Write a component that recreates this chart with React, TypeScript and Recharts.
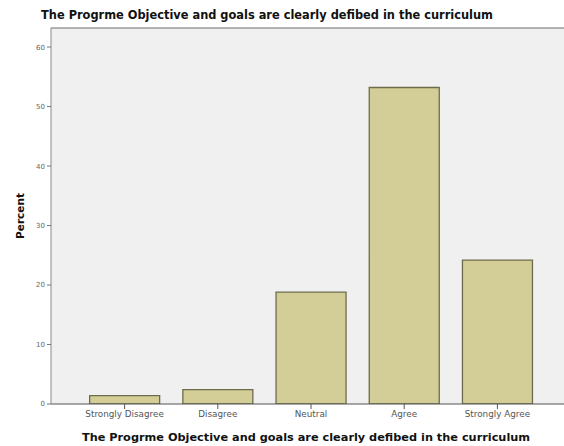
import React from "react";
import {
  BarChart,
  Bar,
  XAxis,
  YAxis,
  CartesianGrid,
  ReferenceLine,
} from "recharts";

const categories = ["Strongly Disagree", "Disagree", "Neutral", "Agree", "Strongly Agree"];
const percents = [1.4, 2.4, 18.8, 53.2, 24.2];
const yTicks = [0, 10, 20, 30, 40, 50, 60];

const titleText = "The Progrme Objective and goals are clearly defibed in the curriculum";

const wideFont = "'DejaVu Sans', Verdana, sans-serif";

const data = categories.map((category, i) => ({ category, percent: percents[i] }));

const XTitle = (props: any) => {
  const vb = props.viewBox || {};
  return (
    <text
      x={306}
      y={(vb.y || 404) + 37}
      textAnchor="middle"
      fontFamily={wideFont}
      fontSize={11.3}
      fontWeight="bold"
      fill="#111"
    >
      {titleText}
    </text>
  );
};

const YTitle = (props: any) => {
  const vb = props.viewBox || {};
  const cy = (vb.y || 28) + (vb.height || 376) / 2;
  return (
    <text
      x={24}
      y={cy}
      transform={`rotate(-90, 24, ${cy})`}
      textAnchor="middle"
      fontFamily={wideFont}
      fontSize={10.5}
      fontWeight="bold"
      fill="#111"
    >
      Percent
    </text>
  );
};

export default function App() {
  return (
    <div style={{ position: "absolute", left: 0, top: 0, width: 564, height: 446, background: "#fff" }}>
      <div
        style={{
          position: "absolute",
          left: 0,
          top: 8,
          width: 534,
          textAlign: "center",
          fontFamily: wideFont,
          fontSize: 11.4,
          fontWeight: 600,
          color: "#111",
          whiteSpace: "nowrap",
        }}
      >
        {titleText}
      </div>
      <BarChart
        width={564}
        height={446}
        data={data}
        margin={{ top: 28, right: 0, left: 0, bottom: 0 }}
        barCategoryGap="12.5%"
        style={{ position: "absolute", left: 0, top: 0 }}
      >
        <CartesianGrid fill="#F0F0F0" horizontal={false} vertical={false} />
        <ReferenceLine y={63.2} stroke="#9a9a9a" strokeWidth={1.5} />
        <XAxis
          dataKey="category"
          height={42}
          padding={{ left: 27, right: 20 }}
          tickSize={5}
          stroke="#555"
          tick={{ fontSize: 8.8, fill: "#555", fontFamily: wideFont }}
          axisLine={{ stroke: "#555" }}
          tickLine={{ stroke: "#555" }}
          interval={0}
          label={<XTitle />}
        />
        <YAxis
          width={51}
          domain={[0, 63.2]}
          ticks={yTicks}
          allowDataOverflow
          tickSize={4}
          stroke="#888"
          tick={{ fontSize: 7, fill: "#666", fontFamily: wideFont }}
          axisLine={{ stroke: "#888" }}
          tickLine={{ stroke: "#777" }}
          label={<YTitle />}
        />
        <Bar
          dataKey="percent"
          fill="#D3CE97"
          stroke="#6E6B4C"
          strokeWidth={1.3}
          isAnimationActive={false}
        />
      </BarChart>
    </div>
  );
}
